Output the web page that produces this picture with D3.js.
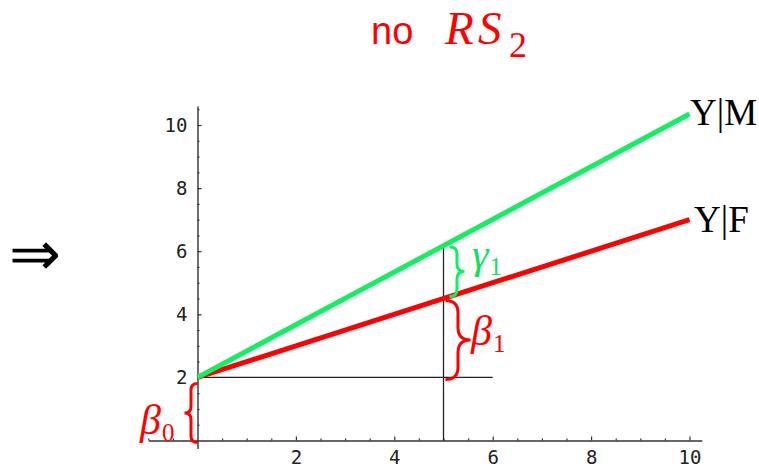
<!DOCTYPE html>
<html><head><meta charset="utf-8">
<script src="https://cdn.jsdelivr.net/npm/d3@7"></script>
<style>body{margin:0;background:#fff}</style>
</head><body>
<svg id="c" width="759" height="469"></svg>
<script>
// ---- data ----
const xTicks = [2, 4, 6, 8, 10];
const yTicks = [2, 4, 6, 8, 10];
const lineNames = ["Y|M", "Y|F"];
const lineStart = [[0, 2], [0, 2]];      // intercept beta0 = 2
const lineEnd = [[10, 10.35], [10, 7.0]]; // male, female
const lineColors = ["#10f060", "#ff0000"];
const xMark = 5;          // where the differences are shown
const hGuideEnd = 6;      // horizontal guide at y = intercept, to x = 6
const braceLabels = ["β", "β", "γ"];
const braceSubs = ["0", "1", "1"];

const svg = d3.select("#c");
const x = d3.scaleLinear().domain([-1, 10.25]).range([148.3, 701.8]);
const y = d3.scaleLinear().domain([-0.25, 10.6]).range([448.4, 106.1]);
const lineAt = (i, xv) => {
  const [x0, y0] = lineStart[i], [x1, y1] = lineEnd[i];
  return y0 + (y1 - y0) * (xv - x0) / (x1 - x0);
};

// minor ticks
const xMinor = d3.range(-1, 10.01, 0.5).filter(v => !(v % 2 === 0));
const yMinor = d3.range(0.5, 10.51, 0.5).filter(v => !(v % 2 === 0));
const axisCol = "#333";

const gx = svg.append("g").attr("transform", `translate(0,${y(0)})`);
gx.call(d3.axisBottom(x).tickValues(xMinor).tickSizeInner(-2).tickSizeOuter(0).tickFormat(""));
const gx2 = svg.append("g").attr("transform", `translate(0,${y(0)})`);
gx2.call(d3.axisBottom(x).tickValues(xTicks).tickSizeInner(-4).tickSizeOuter(0).tickPadding(10));
gx2.select(".domain").remove();

const gy = svg.append("g").attr("transform", `translate(${x(0)},0)`);
gy.call(d3.axisLeft(y).tickValues(yMinor).tickSizeInner(-2).tickSizeOuter(0).tickFormat(""));
const gy2 = svg.append("g").attr("transform", `translate(${x(0)},0)`);
gy2.call(d3.axisLeft(y).tickValues(yTicks).tickSizeInner(-4).tickSizeOuter(0).tickPadding(10));
gy2.select(".domain").remove();

svg.selectAll(".domain").attr("stroke", axisCol).attr("stroke-width", 1.4);
svg.selectAll(".tick line").attr("stroke", axisCol).attr("stroke-width", 1.2);
svg.selectAll(".tick text").attr("font-family", "DejaVu Sans Mono, monospace")
  .attr("font-size", 19).attr("fill", "#222");

// guide lines
svg.append("line").attr("x1", x(0)).attr("x2", x(hGuideEnd))
  .attr("y1", y(lineStart[1][1])).attr("y2", y(lineStart[1][1]))
  .attr("stroke", "#222").attr("stroke-width", 1.3);
svg.append("line").attr("x1", x(xMark)).attr("x2", x(xMark))
  .attr("y1", y(0)).attr("y2", y(lineAt(0, xMark)))
  .attr("stroke", "#222").attr("stroke-width", 1.3);

// lines (female first, male on top)
[1, 0].forEach(i => {
  svg.append("path")
    .attr("d", d3.line().x(d => x(d[0])).y(d => y(d[1]))([lineStart[i], lineEnd[i]]))
    .attr("stroke", lineColors[i]).attr("stroke-width", 5).attr("fill", "none");
});

// line labels
const labelPos = [[690, 125], [694, 232]];
lineNames.forEach((n, i) => {
  svg.append("text").attr("x", labelPos[i][0]).attr("y", labelPos[i][1])
    .attr("font-family", "Liberation Serif, serif").attr("font-size", 37)
    .attr("fill", "#000").text(n);
});

// braces
function brace(xs, y1, y2, w) {
  const r = Math.min(Math.abs(w) / 2, Math.abs(y2 - y1) / 4);
  const h = w / 2, m = (y1 + y2) / 2;
  return `M${xs},${y1} Q${xs + h},${y1} ${xs + h},${y1 + r} L${xs + h},${m - r} Q${xs + h},${m} ${xs + w},${m} ` +
         `Q${xs + h},${m} ${xs + h},${m + r} L${xs + h},${y2 - r} Q${xs + h},${y2} ${xs},${y2}`;
}
const rX = lineAt(1, xMark), gX = lineAt(0, xMark);
const braces = [
  { x: x(0), y1: y(lineStart[1][1]) + 6, y2: y(0) + 2, w: -13, col: "#ff0000" },
  { x: x(xMark) + 2, y1: y(rX) + 2, y2: y(lineStart[1][1]) + 2, w: 25, col: "#ff0000" },
  { x: x(xMark) + 6, y1: y(gX) + 1, y2: y(rX) - 2, w: 15, col: "#10f060" }
];
braces.forEach(b => svg.append("path").attr("d", brace(b.x, b.y1, b.y2, b.w))
  .attr("stroke", b.col).attr("stroke-width", 3).attr("fill", "none"));

const gLabelPos = [[140, 434, "#ff0000"], [471, 345, "#ff0000"], [472, 268, "#10e060"]];
braceLabels.forEach((g, i) => {
  const t = svg.append("text").attr("x", gLabelPos[i][0]).attr("y", gLabelPos[i][1])
    .attr("font-family", "Liberation Serif, serif").attr("fill", gLabelPos[i][2]);
  t.append("tspan").attr("font-size", 42).attr("font-style", "italic").text(g);
  t.append("tspan").attr("font-size", 25).attr("dy", 7).attr("dx", 1).text(braceSubs[i]);
});

// title
const title = svg.append("text").attr("y", 44).attr("fill", "#ff0000");
title.append("tspan").attr("x", 371).attr("font-family", "Liberation Sans, sans-serif").attr("font-size", 38).text("no");
title.append("tspan").attr("x", 445).attr("font-family", "Liberation Serif, serif").attr("font-style", "italic").attr("font-size", 47).text("R");
title.append("tspan").attr("x", 478).attr("font-family", "Liberation Serif, serif").attr("font-style", "italic").attr("font-size", 47).text("S");
title.append("tspan").attr("x", 509).attr("dy", 13).attr("font-family", "Liberation Serif, serif").attr("font-size", 36).text("2");

// implication arrow
svg.append("text").attr("x", 9).attr("y", 275).attr("font-family", "DejaVu Sans, sans-serif")
  .attr("font-weight", 200).attr("font-size", 62).attr("fill", "#000").text("⇒");
</script>
</body></html>
